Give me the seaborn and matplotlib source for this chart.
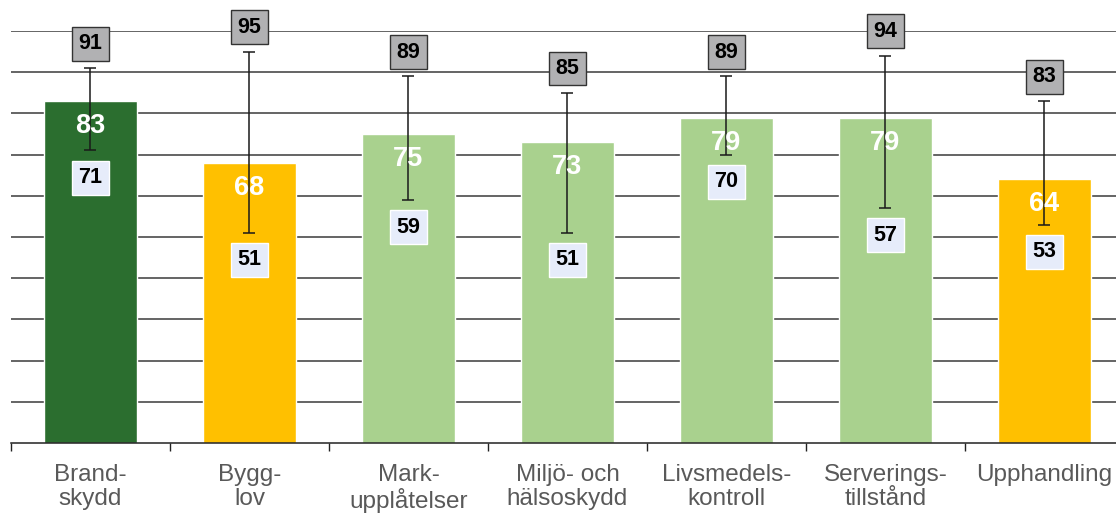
import matplotlib
matplotlib.use("Agg")
import matplotlib.pyplot as plt
import numpy as np
import pandas as pd
import seaborn as sns

categories = ["Brand-\nskydd", "Bygg-\nlov", "Mark-\nupplåtelser", "Miljö- och\nhälsoskydd",
              "Livsmedels-\nkontroll", "Serverings-\ntillstånd", "Upphandling"]
values = [83, 68, 75, 73, 79, 79, 64]
low = [71, 51, 59, 51, 70, 57, 53]
high = [91, 95, 89, 85, 89, 94, 83]
colors = ["#2B6E2F", "#FFC000", "#A9D18E", "#A9D18E", "#A9D18E", "#A9D18E", "#FFC000"]

sns.set_style("white")
plt.rcParams["font.family"] = ["Liberation Sans", "DejaVu Sans"]

df = pd.DataFrame({"cat": categories, "val": values})

fig = plt.figure(figsize=(11.16, 5.13), dpi=100)
ax = fig.add_axes([11 / 1116, 70 / 513, 1105 / 1116, 412 / 513])

# horizontal grid behind bars
for g in range(10, 101, 10):
    ax.axhline(g, color="#3a3a3a", lw=1.1, zorder=0)

sns.barplot(data=df, x="cat", y="val", hue="cat", palette=colors, legend=False,
            width=0.59, saturation=1, ax=ax, zorder=2)

x = np.arange(len(categories))
vals = np.array(values)
ax.errorbar(x, vals, yerr=[vals - np.array(low), np.array(high) - vals], fmt="none",
            ecolor="#1a1a1a", elinewidth=1.1, capsize=4.5, capthick=1.1, zorder=3)

for i in range(len(categories)):
    ax.annotate(str(values[i]), (x[i], values[i]), xytext=(0, -18), textcoords="offset points",
                ha="center", va="center", color="white", fontsize=19.5, fontweight="bold", zorder=4)
    ax.annotate(str(high[i]), (x[i], high[i]), xytext=(0, 17.5), textcoords="offset points",
                ha="center", va="center", color="black", fontsize=15.5, fontweight="bold", zorder=5,
                bbox=dict(boxstyle="square,pad=0.3", fc="#B1B1B3", ec="#333333", lw=1))
    ax.annotate(str(low[i]), (x[i], low[i]), xytext=(0, -19.5), textcoords="offset points",
                ha="center", va="center", color="black", fontsize=15.5, fontweight="bold", zorder=5,
                bbox=dict(boxstyle="square,pad=0.3", fc="#E6ECFA", ec="white", lw=1))

ax.set_yticks([])
ax.set_xlabel("")
ax.set_ylabel("")
ax.set_xticks(np.arange(-0.5, 6.6, 1), minor=True)
ax.set_xticks(x)
ax.set_xticklabels(categories, fontsize=17.5, color="#595959", linespacing=1.1)
ax.set_ylim(0, 100)
ax.set_xlim(-0.5, 6.45)
ax.tick_params(axis="x", which="major", bottom=False, length=0, pad=15)
ax.tick_params(axis="x", which="minor", bottom=True, length=6, width=1, color="#222222", direction="out")
for s in ["top", "right", "left"]:
    ax.spines[s].set_visible(False)
ax.spines["bottom"].set_color("#222222")
ax.spines["bottom"].set_linewidth(1.1)

fig.savefig("out.png", dpi=100)
